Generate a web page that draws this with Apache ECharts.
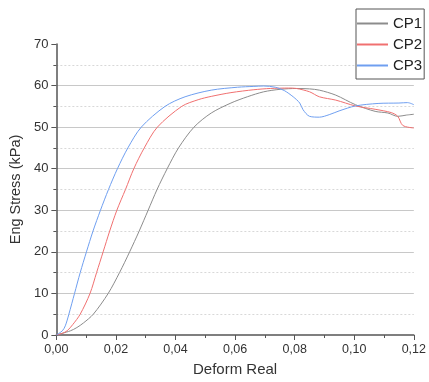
<!DOCTYPE html>
<html><head><meta charset="utf-8">
<script src="https://cdn.jsdelivr.net/npm/echarts@6/dist/echarts.min.js"></script>
<style>html,body{margin:0;padding:0;background:#fff}#c{width:429px;height:382px}</style>
</head><body><div id="c"></div>
<script>
var seriesNames = ['CP1', 'CP2', 'CP3'];
var cp1 = [[0,0],[0.0047,1],[0.0069,1.8],[0.0091,2.9],[0.0124,5],[0.0174,10],[0.0212,15],[0.0246,20],[0.0278,25],[0.0308,30],[0.0338,35],[0.0372,40],[0.041,45],[0.0462,50],[0.052,53.4],[0.0586,55.8],[0.0641,57.3],[0.0696,58.5],[0.0751,59.1],[0.0806,59.3],[0.085,59.2],[0.0883,58.9],[0.0938,57.7],[0.1004,55.4],[0.107,53.8],[0.1113,53.4],[0.1146,52.6],[0.1175,52.9],[0.12,53.1]];
var cp2 = [[0,0],[0.002,0.4],[0.0036,1],[0.0055,2.5],[0.008,5],[0.0113,10],[0.0135,15],[0.0157,20],[0.0179,25],[0.0203,30],[0.0232,35],[0.026,40],[0.0295,45],[0.0339,50],[0.0421,55],[0.0476,56.6],[0.052,57.4],[0.0586,58.3],[0.0663,59.0],[0.0718,59.3],[0.078,59.4],[0.0806,59.3],[0.085,58.5],[0.0883,57.3],[0.0938,56.5],[0.1004,55.1],[0.107,54.3],[0.1124,53.5],[0.1146,52.6],[0.1163,50.4],[0.12,49.8]];
var cp3 = [[0,0],[0.002,1],[0.003,2.2],[0.0042,5],[0.0061,10],[0.008,15],[0.0101,20],[0.0123,25],[0.0148,30],[0.0175,35],[0.0205,40],[0.024,45],[0.0285,50],[0.0365,55],[0.0432,57.3],[0.052,58.9],[0.0608,59.6],[0.0663,59.8],[0.0696,59.9],[0.0735,59.6],[0.0765,58.8],[0.0795,57.3],[0.0817,55.8],[0.0828,54.2],[0.085,52.6],[0.0883,52.4],[0.0916,53],[0.0949,53.9],[0.1004,55.1],[0.108,55.7],[0.115,55.8],[0.1179,55.9],[0.12,55.4]];
var colors = ['#8c8c8c', '#f07070', '#6f9ff0'];

var chart = echarts.init(document.getElementById('c'), null, {renderer: 'canvas'});
var axisCommon = {
  axisLine: {show: true, lineStyle: {color: '#555', width: 1.5}},
  axisTick: {show: true, inside: false, length: 5, lineStyle: {color: '#555'}},
  minorTick: {show: true, splitNumber: 2, length: 3, lineStyle: {color: '#555'}}
};
chart.setOption({
  animation: false,
  textStyle: {fontFamily: 'Liberation Sans'},
  grid: {left: 52, right: 13, top: 44, bottom: 44},
  legend: {
    data: seriesNames, orient: 'vertical', left: 356, top: 9,
    icon: 'rect', itemWidth: 31, itemHeight: 2, itemGap: 4,
    padding: [6, 2, 5, 1],
    borderColor: '#555', borderWidth: 1, backgroundColor: '#fff',
    textStyle: {fontFamily: 'Liberation Sans', fontSize: 15, color: '#222', lineHeight: 17}
  },
  xAxis: Object.assign({}, axisCommon, {
    type: 'value', min: 0, max: 0.12, interval: 0.02,
    name: 'Deform Real', nameLocation: 'middle', nameGap: 27,
    nameTextStyle: {fontFamily: 'Liberation Sans', fontSize: 15, color: '#333'},
    splitLine: {show: false},
    axisLabel: {color: '#333', fontFamily: 'Liberation Sans', fontSize: 12.5,
      formatter: function (v) { return v.toFixed(2).replace('.', ','); }}
  }),
  yAxis: Object.assign({}, axisCommon, {
    type: 'value', min: 0, max: 70, interval: 10,
    name: 'Eng Stress (kPa)', nameLocation: 'middle', nameGap: 26,
    nameTextStyle: {fontFamily: 'Liberation Sans', fontSize: 14.5, color: '#333'},
    axisLabel: {color: '#333', fontFamily: 'Liberation Sans', fontSize: 13},
    splitLine: {show: true, showMinLine: false, showMaxLine: false, lineStyle: {color: '#c8c8c8', width: 1.2}},
    minorSplitLine: {show: true, lineStyle: {color: '#d8d8d8', type: [2, 2], width: 1}}
  }),
  series: [
    {name: 'CP1', type: 'line', data: cp1, symbol: 'none', smooth: 0.3, lineStyle: {width: 1, color: colors[0]}, itemStyle: {color: colors[0]}},
    {name: 'CP2', type: 'line', data: cp2, symbol: 'none', smooth: 0.3, lineStyle: {width: 1, color: colors[1]}, itemStyle: {color: colors[1]}},
    {name: 'CP3', type: 'line', data: cp3, symbol: 'none', smooth: 0.3, lineStyle: {width: 1, color: colors[2]}, itemStyle: {color: colors[2]}}
  ]
});
</script></body></html>
